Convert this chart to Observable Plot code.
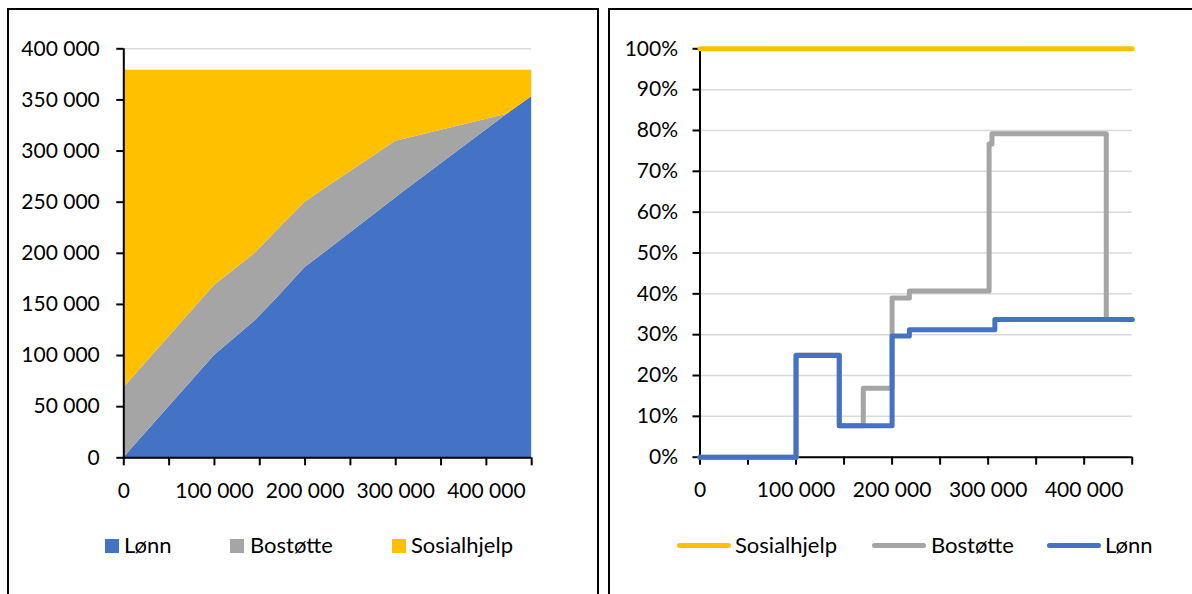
<!DOCTYPE html>
<html><head><meta charset="utf-8">
<script src="https://cdn.jsdelivr.net/npm/d3@7"></script>
<script src="https://cdn.jsdelivr.net/npm/@observablehq/plot@0.6"></script>
<style>
html,body{margin:0;padding:0;background:#fff;width:1192px;height:594px;overflow:hidden;font-family:Lato,sans-serif;}
.panel{position:absolute;top:8px;height:700px;border:2px solid #000;box-sizing:border-box;z-index:2;pointer-events:none;}
.chart{position:absolute;top:0;}
.leg{position:absolute;display:flex;align-items:center;font-size:22px;color:#000;line-height:1;white-space:nowrap;}
</style>
</head><body>
<div class="panel" style="left:7px;width:592px"></div>
<div class="panel" style="left:608px;width:600px"></div>
<div id="left" class="chart" style="left:0;width:600px"></div>
<div id="right" class="chart" style="left:600px;width:592px"></div>
<script>
// ---- Data: left chart (stacked areas, NOK) ----
const incomeX   = [0, 100000, 145000, 170000, 200000, 218000, 300000, 307000, 423000, 450000];
const lonn      = [0, 100000, 134000, 157000, 186000, 198000, 254000, 259000, 336000, 353000];
const bostotte  = [68500, 68500, 66000, 66000, 64000, 63000, 55500, 52000, 0, 0];
const sosialhjelp = [310500, 210500, 179000, 156000, 129000, 118000, 69500, 68000, 43000, 26000];
const areaSeries = ["Lønn", "Bostøtte", "Sosialhjelp"];
const areaColors = ["#4472C4", "#A5A5A5", "#FFC000"];

// ---- Data: right chart (marginal rates, %) ----
const sosX = [0, 450000];
const sosY = [100, 100];
const bosX = [0, 100000, 145000, 170000, 200000, 218000, 301000, 304000, 423000, 450000];
const bosY = [0, 25, 7.7, 16.9, 39, 40.7, 76.7, 79.2, 33.7, 33.7];
const lonX = [0, 100000, 145000, 200000, 218000, 307000, 450000];
const lonY = [0, 24.9, 7.7, 29.7, 31.2, 33.7, 33.7];
const lineSeries = ["Sosialhjelp", "Bostøtte", "Lønn"];
const lineColors = ["#FFC000", "#A5A5A5", "#4472C4"];

// tick values
const xTicks = d3.range(0, 450001, 50000);
const yTicksLeft = d3.range(0, 400001, 50000);
const yTicksRight = d3.range(0, 101, 10);

const fmt = d => d3.format(",")(d).replace(/,/g, "\u00a0");
const xFmt = d => d % 100000 === 0 ? fmt(d) : "";

// build tables
const areaData = [];
[lonn, bostotte, sosialhjelp].forEach((vals, i) => {
  incomeX.forEach((x, j) => areaData.push({x, value: vals[j], series: areaSeries[i]}));
});
const lineData = [];
[[sosX, sosY], [bosX, bosY], [lonX, lonY]].forEach(([xs, ys], i) => {
  xs.forEach((x, j) => lineData.push({x, y: ys[j], series: lineSeries[i]}));
});

const baseStyle = {background: "transparent", fontFamily: "Lato, sans-serif", fontSize: "21px", color: "#000", overflow: "visible"};

const left = Plot.plot({
  width: 600, height: 520,
  marginLeft: 123.3, marginRight: 68.8, marginTop: 48.3, marginBottom: 62.7,
  style: baseStyle,
  x: {domain: [0, 450000], axis: null},
  y: {domain: [0, 400000], axis: null},
  color: {domain: areaSeries, range: areaColors},
  marks: [
    Plot.gridY(yTicksLeft, {stroke: "#d9d9d9", strokeOpacity: 1, strokeWidth: 1.5}),
    Plot.areaY(areaData, {x: "x", y: "value", fill: "series", order: null}),
    Plot.ruleX([0], {stroke: "#000", strokeWidth: 2}),
    Plot.ruleY([0], {stroke: "#000", strokeWidth: 2}),
    Plot.axisY({ticks: yTicksLeft, tickFormat: fmt, tickSize: 7, tickPadding: 17, fontSize: 21, stroke: "#000", strokeWidth: 2, label: null}),
    Plot.axisX({ticks: xTicks, tickFormat: xFmt, tickSize: 8, tickPadding: 17, fontSize: 21, stroke: "#000", strokeWidth: 2, label: null})
  ]
});
document.getElementById("left").appendChild(left);

const right = Plot.plot({
  width: 592, height: 520,
  marginLeft: 99.5, marginRight: 60.3, marginTop: 48.3, marginBottom: 63.3,
  style: baseStyle,
  x: {domain: [0, 450000], axis: null},
  y: {domain: [0, 100], axis: null},
  color: {domain: lineSeries, range: lineColors},
  marks: [
    Plot.gridY(yTicksRight, {stroke: "#d9d9d9", strokeOpacity: 1, strokeWidth: 1.5}),
    Plot.ruleX([0], {stroke: "#000", strokeWidth: 2}),
    Plot.ruleY([0], {stroke: "#000", strokeWidth: 2}),
    Plot.axisY({ticks: yTicksRight, tickFormat: d => d + "%", tickSize: 7, tickPadding: 15, fontSize: 21, stroke: "#000", strokeWidth: 2, label: null}),
    Plot.axisX({ticks: xTicks, tickFormat: xFmt, tickSize: 8, tickPadding: 17, fontSize: 21, stroke: "#000", strokeWidth: 2, label: null}),
    Plot.line(lineData, {x: "x", y: "y", z: "series", stroke: "series", curve: "step-after", strokeWidth: 5, strokeLinecap: "round", strokeLinejoin: "round"})
  ]
});
document.getElementById("right").appendChild(right);

// ---- Legends ----
const leftLegPos = [[105, 124], [230, 250], [392, 411]];
areaSeries.forEach((name, i) => {
  const sw = document.createElement("div");
  sw.style.cssText = `position:absolute;left:${leftLegPos[i][0]}px;top:539px;width:14px;height:14px;background:${areaColors[i]};`;
  document.body.appendChild(sw);
  const t = document.createElement("div");
  t.className = "leg";
  t.style.left = leftLegPos[i][1] + "px";
  t.style.top = "534px";
  t.textContent = name;
  document.body.appendChild(t);
});
const rightLegPos = [[677, 735], [872, 931], [1047, 1105]];
lineSeries.forEach((name, i) => {
  const sw = document.createElement("div");
  sw.style.cssText = `position:absolute;left:${rightLegPos[i][0]}px;top:543px;width:54px;height:5px;border-radius:3px;background:${lineColors[i]};`;
  document.body.appendChild(sw);
  const t = document.createElement("div");
  t.className = "leg";
  t.style.left = rightLegPos[i][1] + "px";
  t.style.top = "534px";
  t.textContent = name;
  document.body.appendChild(t);
});
</script>
</body></html>
